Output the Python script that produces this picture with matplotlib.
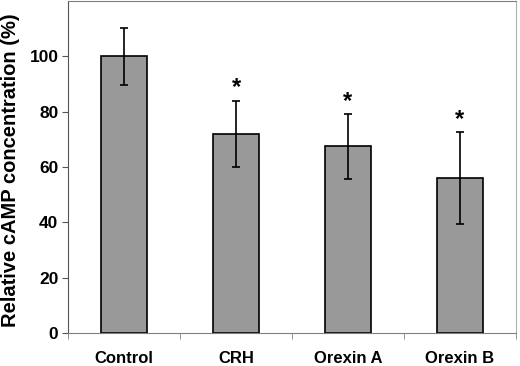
import matplotlib.pyplot as plt
import numpy as np

plt.rcParams['font.family'] = ['Liberation Sans', 'DejaVu Sans']

# values
groups = ['Control', 'CRH', 'Orexin A', 'Orexin B']
camp = [100, 72, 67.5, 56]
sem = [10.2, 12, 11.7, 16.5]
signif = ['', '*', '*', '*']

fig = plt.figure(figsize=(5.2, 3.66), dpi=100)
ax = fig.add_axes([0.131, 0.090, 0.861, 0.907])

x = np.arange(len(groups))
ax.bar(x, camp, width=0.41, color='#999999', edgecolor='black', linewidth=1.2,
       yerr=sem, error_kw=dict(ecolor='black', elinewidth=1.2, capsize=3, capthick=1.2))

for xi, v, e, s in zip(x, camp, sem, signif):
    if s:
        ax.text(xi, v + e + 0.5, s, ha='center', va='bottom', fontsize=17, fontweight='bold')

ax.set_xlim(-0.5, len(groups) - 0.5)
ax.set_ylim(0, 120)
ax.set_yticks([0, 20, 40, 60, 80, 100])
ax.set_xticks(x)
ax.set_xticklabels(groups, fontsize=12, fontweight='bold')
ax.set_xticks(np.arange(len(groups) + 1) - 0.5, minor=True)
ax.tick_params(axis='x', which='major', length=0, pad=13)
ax.tick_params(axis='x', which='minor', length=4, color='#808080')
ax.tick_params(axis='y', length=4, labelsize=12.5, color='#555555', pad=3)
for lab in ax.get_yticklabels():
    lab.set_fontweight('bold')

ax.set_ylabel('Relative cAMP concentration (%)', fontsize=14.5, fontweight='bold')
ax.yaxis.set_label_coords(-0.107, 0.49)

ax.spines['left'].set_color('#555555')
ax.spines['bottom'].set_color('#808080')
ax.spines['top'].set_color('#808080')
ax.spines['right'].set_color('#b0b0b0')

fig.savefig('out.png', dpi=100)
